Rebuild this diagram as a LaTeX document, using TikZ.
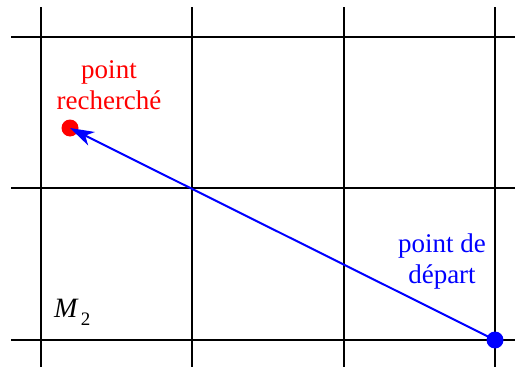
\documentclass[tikz,border=0pt]{standalone}
\usepackage{fontspec}
\setmainfont{Liberation Serif}
\usetikzlibrary{arrows.meta}
\begin{document}
\begin{tikzpicture}[x=1pt,y=-1pt,
  gridline/.style={line width=2.4pt,black},
  lab/.style={font=\fontsize{27}{31}\selectfont,align=center,inner sep=0pt},
  dot/.style={circle,inner sep=0pt,minimum size=17pt}]
\useasboundingbox (0,0) rectangle (515,367);
\foreach \x in {41,192,344,495} \draw[gridline] (\x,7) -- (\x,367);
\foreach \y in {37,188,340} \draw[gridline] (11,\y) -- (515,\y);
\node[dot,fill=red] (r) at (70,128) {};
\node[dot,fill=blue] (b) at (495,340) {};
\draw[blue,line width=2pt,-{Stealth[length=24pt,width=15pt,inset=7pt]}] (b.center) -- (r.center);
\node[lab,text=red] (tr) at (109,85) {point\\recherché};
\node[lab,text=blue] (tb) at (442,262) {point de\\départ};
\node[anchor=base west,inner sep=0pt] (m) at (54,317) {\fontsize{28}{28}\selectfont\textit{M}\hspace{2pt}\raisebox{-8pt}{\fontsize{19}{19}\selectfont 2}};
\end{tikzpicture}
\end{document}
